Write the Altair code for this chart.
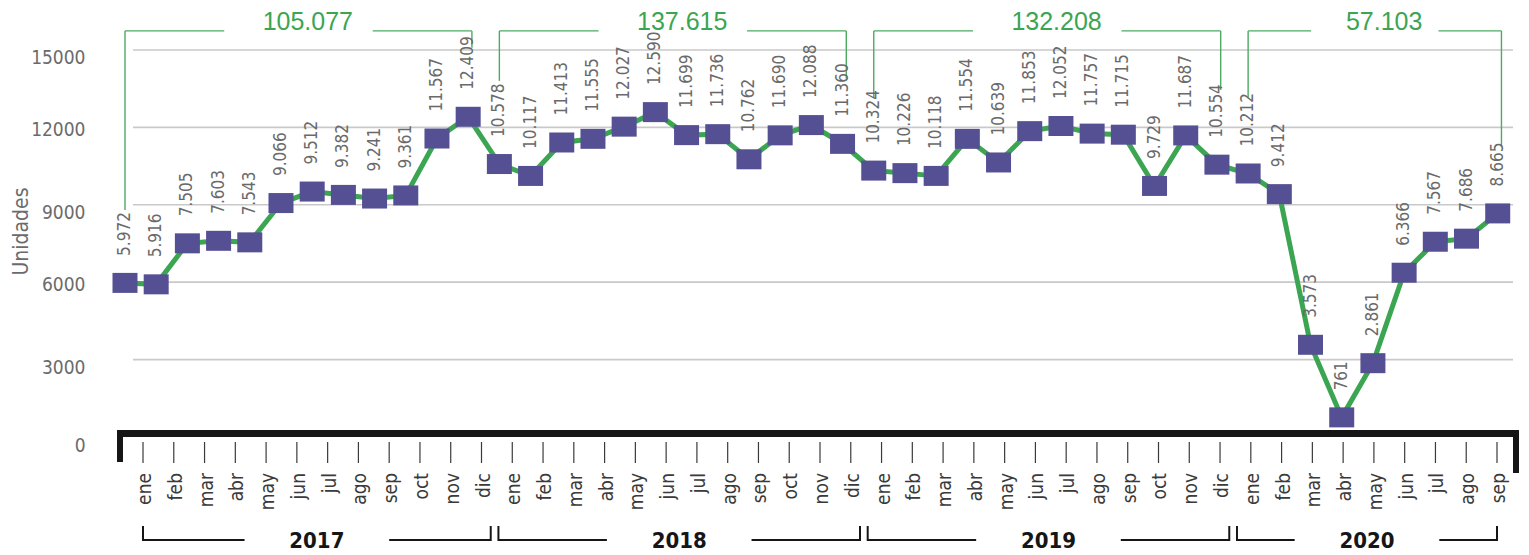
import altair as alt
import pandas as pd

# ---------------- data ----------------
months = ["ene", "feb", "mar", "abr", "may", "jun", "jul", "ago", "sep", "oct", "nov", "dic"]
years = [2017, 2018, 2019, 2020]
values_2017 = [5972, 5916, 7505, 7603, 7543, 9066, 9512, 9382, 9241, 9361, 11567, 12409]
values_2018 = [10578, 10117, 11413, 11555, 12027, 12590, 11699, 11736, 10762, 11690, 12088, 11360]
values_2019 = [10324, 10226, 10118, 11554, 10639, 11853, 12052, 11757, 11715, 9729, 11687, 10554]
values_2020 = [10212, 9412, 3573, 761, 2861, 6366, 7567, 7686, 8665]
y_ticks = [0, 3000, 6000, 9000, 12000, 15000]
# annotation bracket levels (in Unidades)
bracket_top_level = 15737
bracket_text_level = 16085
bracket_left_drop = [8800, 13800, 13140, 13180]
bracket_right_drop = [15080, 13880, 13450, 11280]

series = [values_2017, values_2018, values_2019, values_2020]


def fmt(n):
    return f"{n:,}".replace(",", ".")


rows = []
i = 0
year_ranges = []
for yr, vals in zip(years, series):
    start = i
    for m, v in zip(months, vals):
        rows.append({"idx": i, "value": v, "label": fmt(v), "month": m, "year": yr})
        i += 1
    year_ranges.append((yr, start, i - 1, sum(vals)))
df = pd.DataFrame(rows)

# top brackets (marker scale)
top_segs = []
top_text = []
for k, (yr, a, b, tot) in enumerate(year_ranges):
    txt = fmt(tot)
    x0, x1 = a, b + 0.12
    mid = (x0 + x1) / 2
    half = 0.34 * len(txt)
    top_segs += [
        {"xa": x0, "xb": x0, "ya": bracket_left_drop[k], "yb": bracket_top_level},
        {"xa": x0, "xb": mid - half, "ya": bracket_top_level, "yb": bracket_top_level},
        {"xa": mid + half, "xb": x1, "ya": bracket_top_level, "yb": bracket_top_level},
        {"xa": x1, "xb": x1, "ya": bracket_top_level, "yb": bracket_right_drop[k]},
    ]
    top_text.append({"x": mid + 0.3, "y": bracket_text_level, "text": txt})
top_segs = pd.DataFrame(top_segs)
top_text = pd.DataFrame(top_text)

# bottom year brackets (tick scale)
bot_h, bot_v, bot_t = [], [], []
n_last = len(df) - 1
for yr, a, b, tot in year_ranges:
    x0 = 0 if a == 0 else a - 0.45
    x1 = n_last if b == n_last else b + 0.3
    mid = (x0 + x1) / 2
    bot_h += [{"xa": x0, "xb": mid - 2.35}, {"xa": mid + 2.35, "xb": x1}]
    bot_v += [{"x": x0}, {"x": x1}]
    bot_t.append({"x": mid, "text": str(yr)})
bot_h = pd.DataFrame(bot_h)
bot_v = pd.DataFrame(bot_v)
bot_t = pd.DataFrame(bot_t)

grid_df = pd.DataFrame({"v": y_ticks[1:]})

# ---------------- chart ----------------
W, H = 1393, 425
YMAX = 16470
NARROW = "Liberation Sans Narrow, DejaVu Sans Condensed, Arial Narrow, sans-serif"
GREEN = "#3ba552"
PURPLE = "#554f93"

yscale = alt.Scale(domain=[0, YMAX], nice=False, zero=True)
xs_mark = alt.Scale(domain=[-0.16, 44.49], nice=False, zero=False)
xs_tick = alt.Scale(domain=[-0.7475, 44.52], nice=False, zero=False)

base = alt.Chart(df)

grid = alt.Chart(grid_df).mark_rule(color="#c9c9c9", strokeWidth=1.6).encode(
    y=alt.Y("v:Q", scale=yscale,
            axis=alt.Axis(values=y_ticks, format="d", grid=False, domain=False, ticks=False,
                          labelPadding=35, labelFontSize=19, labelFont=NARROW,
                          labelColor="#6b6b6b",
                          labelOffset={"condition": {"test": "datum.value == 12000 || datum.value == 6000",
                                                     "value": 2},
                                       "value": 8},
                          labelFlush=False, labelOverlap=False,
                          title="Unidades", titleFont=NARROW, titleFontSize=21,
                          titleFontWeight="normal", titleColor="#6b6b6b",
                          titleAngle=270, titleBaseline="bottom", titleAlign="center",
                          titleX=-89, titleY=219)),
    x=alt.value(13), x2=alt.value(W),
)

line = base.mark_line(color=GREEN, strokeWidth=5).encode(
    x=alt.X("idx:Q", scale=xs_mark, axis=None),
    y=alt.Y("value:Q", scale=yscale),
)

pts = base.mark_point(shape="M-1.25,-1L1.25,-1L1.25,1L-1.25,1Z", size=400,
                      filled=True, opacity=1, color=PURPLE).encode(
    x=alt.X("idx:Q", scale=xs_mark, axis=None),
    y=alt.Y("value:Q", scale=yscale),
)

vlabels = base.mark_text(angle=270, align="left", baseline="middle", dx=27,
                         fontSize=17, font=NARROW, color="#6a6a6a").encode(
    x=alt.X("idx:Q", scale=xs_mark, axis=None),
    y=alt.Y("value:Q", scale=yscale),
    text="label:N",
)

tsegs = alt.Chart(top_segs).mark_rule(color="#4caa62", strokeWidth=1.4).encode(
    x=alt.X("xa:Q", scale=xs_mark, axis=None), x2="xb:Q",
    y=alt.Y("ya:Q", scale=yscale), y2="yb:Q",
)

ttext = alt.Chart(top_text).mark_text(font="Liberation Sans", fontSize=25,
                                      color=GREEN, baseline="middle").encode(
    x=alt.X("x:Q", scale=xs_mark, axis=None),
    y=alt.Y("y:Q", scale=yscale),
    text="text:N",
)

# thick axis bar
bar = alt.Chart(df).mark_rect(color="#161616").encode(
    x=alt.value(-3), x2=alt.value(W + 6), y=alt.value(418), y2=alt.value(425))
bar_l = alt.Chart(df).mark_rect(color="#161616").encode(
    x=alt.value(-3), x2=alt.value(3), y=alt.value(418), y2=alt.value(450))
bar_r = alt.Chart(df).mark_rect(color="#161616").encode(
    x=alt.value(W), x2=alt.value(W + 6), y=alt.value(418), y2=alt.value(461))

mticks = base.mark_rule(color="#3a3a3a", strokeWidth=1.2).encode(
    x=alt.X("idx:Q", scale=xs_tick, axis=None),
    y=alt.value(430), y2=alt.value(451),
)
mlabels = base.mark_text(angle=270, align="right", baseline="middle", dy=2,
                         fontSize=19, font=NARROW, color="#3a3a3a").encode(
    x=alt.X("idx:Q", scale=xs_tick, axis=None),
    y=alt.value(461),
    text="month:N",
)

bh = alt.Chart(bot_h).mark_rule(color="#161616", strokeWidth=2).encode(
    x=alt.X("xa:Q", scale=xs_tick, axis=None), x2="xb:Q", y=alt.value(528))
bv = alt.Chart(bot_v).mark_rule(color="#161616", strokeWidth=2).encode(
    x=alt.X("x:Q", scale=xs_tick, axis=None), y=alt.value(514), y2=alt.value(529))
bt = alt.Chart(bot_t).mark_text(font=NARROW, fontWeight="bold", fontSize=22,
                                color="#161616", baseline="middle").encode(
    x=alt.X("x:Q", scale=xs_tick, axis=None), y=alt.value(529), text="text:N")

chart = alt.layer(
    grid, bar, bar_l, bar_r, tsegs, ttext, line, pts, vlabels,
    mticks, mlabels, bh, bv, bt,
).resolve_scale(x="independent").properties(
    width=W, height=H, background="white",
    padding={"left": 112, "top": 4, "right": 8, "bottom": 116},
    autosize=alt.AutoSizeParams(type="none"),
).configure_view(stroke=None)

chart.save("out.html", embed_options={"renderer": "svg", "actions": False})
